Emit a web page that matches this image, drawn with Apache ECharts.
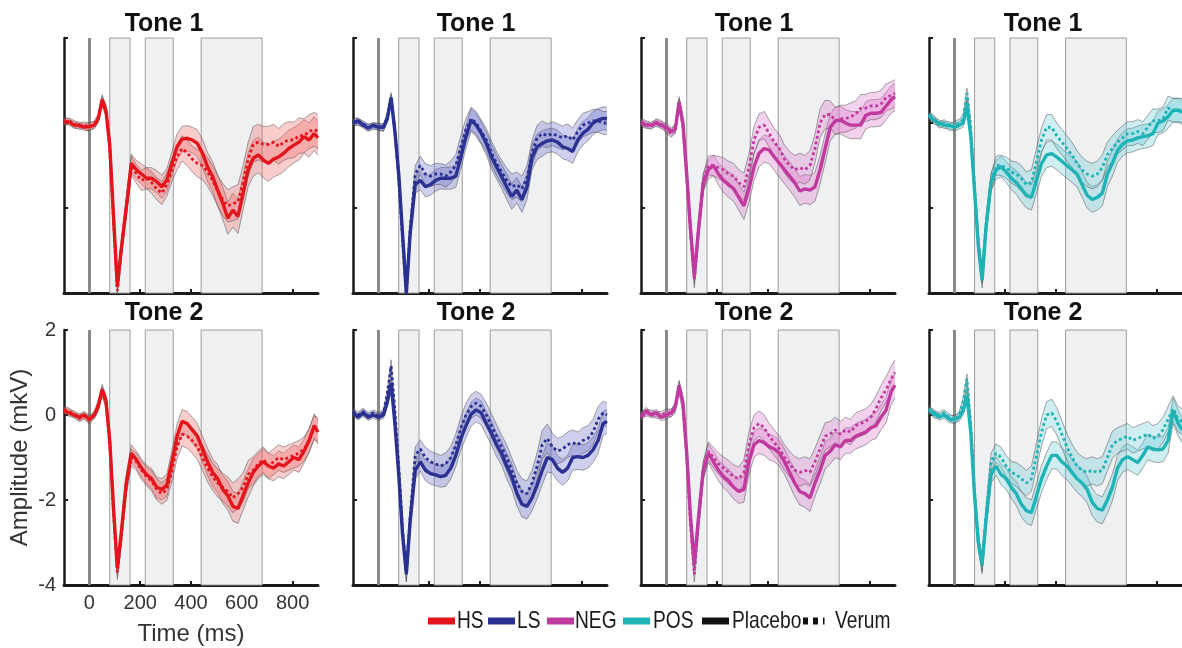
<!DOCTYPE html>
<html><head><meta charset="utf-8">
<script src="https://cdn.jsdelivr.net/npm/echarts@6/dist/echarts.min.js"></script>
<style>html,body{margin:0;padding:0;background:#fff}#c{width:1182px;height:648px}</style>
</head><body><div id="c"></div>
<script>
// ---------- DATA ----------
const time = [-100,-80,-60,-40,-20,0,20, 35,50,65,80,95,110,125, 145,165,185,205,225,245,265,285,305,325, 345,365,385,405,425,445,465,485,505,525, 545,565,585,605,625,645,665,685,705,725, 745,765,785,805,825,845,865,885,900];

const hsT1Placebo = [0.05,0.02,-0.05,-0.05,-0.1,-0.08,-0.05, 0.1,0.55,0.3,-0.5,-2.2,-3.85,-3.0, -2.0,-0.95,-1.1,-1.2,-1.3,-1.3,-1.38,-1.5,-1.34,-0.95, -0.56,-0.38,-0.36,-0.4,-0.48,-0.71,-1.03,-1.26,-1.58,-1.89, -2.24,-2.05,-2.2,-1.65,-1.1,-0.83,-0.75,-0.87,-0.95,-0.85, -0.8,-0.71,-0.6,-0.52,-0.45,-0.32,-0.4,-0.25,-0.35];
const hsT1Verum = [0.02,0.05,-0.02,-0.08,-0.05,-0.1,-0.02, 0.12,0.5,0.3,-0.6,-2.3,-3.95,-3.0, -2.0,-1.0,-1.2,-1.35,-1.3,-1.4,-1.55,-1.65,-1.45,-1.1, -0.8,-0.6,-0.7,-0.85,-0.95,-1.0,-1.15,-1.35,-1.6,-1.8, -1.95,-1.9,-1.85,-1.4,-0.85,-0.5,-0.45,-0.5,-0.5,-0.45, -0.55,-0.45,-0.4,-0.4,-0.3,-0.3,-0.2,-0.15,-0.2];
const hsT1Se = [0.08,0.07,0.08,0.07,0.08,0.09,0.08, 0.09,0.12,0.12,0.14,0.16,0.18,0.18, 0.2,0.22,0.22,0.24,0.25,0.25,0.26,0.27,0.27,0.28, 0.3,0.3,0.3,0.3,0.32,0.33,0.34,0.35,0.36,0.38, 0.38,0.4,0.4,0.4,0.4,0.42,0.42,0.42,0.42,0.42, 0.42,0.43,0.43,0.42,0.42,0.4,0.4,0.4,0.4];

const hsT2Placebo = [0.1,0.05,0.0,-0.05,0.0,-0.1,0.0, 0.2,0.6,0.35,-0.6,-2.2,-3.6,-2.8, -1.6,-0.9,-1.05,-1.25,-1.4,-1.5,-1.7,-1.75,-1.65,-1.1, -0.5,-0.15,-0.2,-0.35,-0.5,-0.8,-1.1,-1.35,-1.5,-1.75, -1.9,-2.15,-2.2,-1.9,-1.6,-1.35,-1.2,-1.1,-1.2,-1.25, -1.15,-1.2,-1.1,-1.0,-1.05,-0.85,-0.6,-0.25,-0.4];
const hsT2Verum = [0.12,0.08,0.02,-0.08,-0.02,-0.12,0.02, 0.25,0.55,0.3,-0.6,-2.3,-3.7,-2.9, -1.7,-1.0,-1.1,-1.3,-1.45,-1.55,-1.75,-1.85,-1.75,-1.3, -0.75,-0.45,-0.5,-0.6,-0.75,-1.0,-1.25,-1.45,-1.6,-1.7, -1.8,-1.95,-1.85,-1.7,-1.4,-1.3,-1.15,-1.05,-1.2,-1.1, -1.0,-1.05,-1.0,-0.95,-0.9,-0.8,-0.6,-0.3,-0.35];
const hsT2Se = [0.08,0.08,0.07,0.08,0.08,0.09,0.08, 0.1,0.12,0.12,0.14,0.15,0.17,0.17, 0.18,0.2,0.2,0.22,0.22,0.24,0.25,0.25,0.26,0.27, 0.28,0.28,0.28,0.3,0.3,0.3,0.32,0.32,0.33,0.33, 0.34,0.35,0.35,0.34,0.33,0.32,0.3,0.3,0.3,0.3, 0.3,0.3,0.3,0.3,0.3,0.28,0.28,0.28,0.28];

const lsT1Placebo = [0.0,0.05,-0.05,-0.12,-0.05,-0.1,-0.1, 0.1,0.6,-0.2,-1.2,-2.6,-4.0,-2.6, -1.45,-1.35,-1.5,-1.45,-1.35,-1.3,-1.3,-1.3,-1.25,-0.8, -0.32,0.07,-0.05,-0.24,-0.48,-0.8,-1.03,-1.26,-1.5,-1.73, -1.58,-1.8,-1.5,-0.8,-0.56,-0.48,-0.42,-0.4,-0.45,-0.56, -0.6,-0.67,-0.4,-0.24,-0.15,0.0,0.07,0.11,0.1];
const lsT1Verum = [0.03,0.02,-0.02,-0.1,-0.08,-0.08,-0.12, 0.15,0.55,-0.2,-1.3,-2.7,-4.05,-2.5, -1.2,-1.0,-1.2,-1.25,-1.2,-1.2,-1.25,-1.15,-1.0,-0.55, -0.15,0.1,0.0,-0.2,-0.4,-0.7,-0.95,-1.15,-1.35,-1.5, -1.45,-1.55,-1.3,-0.7,-0.35,-0.25,-0.3,-0.25,-0.3,-0.35, -0.3,-0.4,-0.2,-0.05,0.0,0.05,0.05,0.0,0.0];
const lsT1Se = [0.08,0.08,0.07,0.08,0.07,0.08,0.08, 0.09,0.12,0.13,0.15,0.17,0.18,0.18, 0.2,0.22,0.24,0.25,0.25,0.25,0.26,0.26,0.26,0.27, 0.27,0.27,0.27,0.27,0.27,0.28,0.28,0.28,0.3,0.3, 0.3,0.3,0.3,0.3,0.3,0.3,0.28,0.28,0.28,0.28, 0.28,0.28,0.28,0.28,0.27,0.27,0.27,0.27,0.27];

const lsT2Placebo = [0.05,-0.05,0.05,-0.05,0.0,-0.05,0.0, 0.3,0.75,-0.2,-1.4,-2.8,-3.73,-2.5, -1.3,-1.1,-1.3,-1.38,-1.41,-1.45,-1.42,-1.25,-0.95,-0.55, -0.25,0.02,0.12,0.05,-0.2,-0.42,-0.7,-0.9,-1.2,-1.45, -1.84,-2.1,-2.15,-1.95,-1.65,-1.3,-1.0,-1.05,-1.25,-1.35, -1.25,-1.0,-0.98,-1.0,-0.95,-0.82,-0.6,-0.2,-0.15];
const lsT2Verum = [0.08,0.0,0.08,-0.02,0.05,-0.02,0.05, 0.5,1.15,0.1,-1.2,-2.7,-3.75,-2.4, -0.95,-0.8,-1.0,-1.1,-1.15,-1.2,-1.15,-1.0,-0.7,-0.3, 0.0,0.2,0.28,0.2,0.0,-0.25,-0.5,-0.75,-1.0,-1.3, -1.6,-1.8,-1.85,-1.6,-1.2,-0.7,-0.55,-0.75,-0.85,-0.8, -0.7,-0.65,-0.7,-0.6,-0.55,-0.4,-0.1,0.05,0.0];
const lsT2Se = [0.08,0.07,0.08,0.08,0.07,0.08,0.08, 0.1,0.15,0.13,0.15,0.17,0.18,0.18, 0.2,0.22,0.24,0.25,0.25,0.25,0.26,0.26,0.26,0.27, 0.28,0.28,0.28,0.28,0.28,0.28,0.28,0.28,0.3,0.3, 0.3,0.3,0.3,0.3,0.32,0.34,0.34,0.32,0.3,0.3, 0.3,0.3,0.3,0.3,0.3,0.3,0.3,0.28,0.28];

const negT1Placebo = [0.0,-0.05,-0.05,0.0,-0.05,-0.1,-0.2, -0.15,0.5,0.0,-1.2,-2.5,-3.6,-2.6, -1.4,-1.1,-1.0,-1.2,-1.35,-1.45,-1.55,-1.75,-1.95,-1.55, -1.03,-0.71,-0.6,-0.64,-0.8,-0.95,-1.1,-1.25,-1.4,-1.6, -1.55,-1.58,-1.5,-1.1,-0.6,-0.1,0.05,0.07,0.0,-0.05, -0.05,-0.05,0.18,0.23,0.23,0.25,0.4,0.55,0.62];
const negT1Verum = [0.02,-0.02,-0.08,0.02,-0.02,-0.15,-0.25, -0.1,0.45,-0.05,-1.3,-2.6,-3.7,-2.6, -1.4,-1.0,-1.0,-1.05,-1.1,-1.2,-1.25,-1.4,-1.5,-1.05, -0.4,-0.1,-0.05,-0.25,-0.45,-0.6,-0.85,-1.0,-1.1,-1.05, -1.1,-1.0,-0.6,0.0,0.2,0.2,0.05,0.1,0.1,0.15, 0.2,0.35,0.35,0.4,0.4,0.45,0.6,0.65,0.7];
const negT1Se = [0.08,0.08,0.07,0.08,0.08,0.09,0.09, 0.1,0.12,0.13,0.15,0.17,0.18,0.18, 0.2,0.22,0.24,0.26,0.28,0.3,0.3,0.3,0.32,0.32, 0.32,0.32,0.32,0.32,0.32,0.33,0.33,0.33,0.34,0.34, 0.34,0.34,0.34,0.34,0.34,0.32,0.32,0.32,0.32,0.32, 0.32,0.32,0.32,0.32,0.32,0.32,0.32,0.32,0.32];

const negT2Placebo = [-0.05,0.1,0.0,0.05,-0.05,0.0,0.05, 0.2,0.7,0.3,-0.9,-2.4,-3.5,-2.5, -1.3,-0.9,-1.1,-1.3,-1.45,-1.55,-1.7,-1.8,-1.75,-1.1, -0.7,-0.6,-0.65,-0.75,-0.8,-0.9,-1.1,-1.35,-1.6,-1.8, -1.85,-1.95,-1.6,-1.3,-0.95,-0.85,-0.7,-0.75,-0.6,-0.6, -0.5,-0.45,-0.4,-0.3,-0.25,-0.05,0.12,0.55,0.7];
const negT2Verum = [0.0,0.05,0.05,0.0,0.0,0.05,0.05, 0.15,0.65,0.2,-1.0,-2.6,-3.75,-2.6, -1.3,-0.85,-1.0,-1.15,-1.25,-1.35,-1.45,-1.5,-1.35,-0.7, -0.3,-0.2,-0.3,-0.5,-0.65,-0.8,-1.0,-1.15,-1.3,-1.35, -1.3,-1.35,-1.1,-0.8,-0.5,-0.45,-0.35,-0.45,-0.35,-0.4, -0.25,-0.2,-0.15,-0.05,0.15,0.4,0.6,0.85,1.0];
const negT2Se = [0.08,0.08,0.07,0.08,0.08,0.09,0.09, 0.1,0.12,0.13,0.15,0.17,0.18,0.18, 0.2,0.22,0.24,0.25,0.26,0.28,0.28,0.28,0.3,0.3, 0.3,0.3,0.3,0.3,0.3,0.3,0.3,0.3,0.32,0.32, 0.32,0.32,0.32,0.32,0.32,0.3,0.3,0.3,0.3,0.3, 0.3,0.3,0.3,0.3,0.3,0.3,0.3,0.3,0.3];

const posT1Placebo = [0.2,0.05,0.0,-0.05,-0.05,-0.1,-0.05, 0.0,0.4,-0.3,-1.6,-2.9,-3.7,-2.5, -1.4,-1.1,-1.03,-1.15,-1.3,-1.4,-1.55,-1.7,-1.75,-1.35, -0.95,-0.75,-0.72,-0.8,-0.9,-1.0,-1.1,-1.2,-1.45,-1.7, -1.8,-1.75,-1.65,-1.2,-0.95,-0.65,-0.5,-0.42,-0.4,-0.35, -0.32,-0.3,-0.25,0.0,0.05,0.15,0.3,0.3,0.25];
const posT1Verum = [0.15,0.1,-0.05,0.0,-0.1,-0.05,0.0, 0.1,0.7,-0.1,-1.5,-2.8,-3.6,-2.4, -1.4,-1.0,-1.0,-1.05,-1.15,-1.2,-1.3,-1.45,-1.4,-0.9, -0.4,-0.1,-0.1,-0.3,-0.45,-0.6,-0.75,-0.95,-1.1,-1.2, -1.25,-1.2,-1.05,-0.75,-0.6,-0.45,-0.35,-0.25,-0.25,-0.2, -0.25,-0.1,0.05,0.05,0.1,0.35,0.3,0.3,0.3];
const posT1Se = [0.08,0.08,0.07,0.08,0.08,0.09,0.09, 0.1,0.12,0.13,0.15,0.17,0.18,0.18, 0.2,0.22,0.24,0.25,0.26,0.28,0.3,0.3,0.3,0.3, 0.3,0.3,0.3,0.3,0.3,0.3,0.3,0.3,0.3,0.3, 0.3,0.3,0.3,0.3,0.3,0.28,0.28,0.28,0.28,0.28, 0.28,0.28,0.28,0.28,0.28,0.28,0.28,0.28,0.28];

const posT2Placebo = [0.1,0.05,-0.05,0.0,-0.1,-0.1,-0.05, 0.1,0.45,-0.4,-1.9,-3.0,-3.5,-2.5, -1.4,-1.2,-1.4,-1.5,-1.7,-1.85,-2.1,-2.25,-2.3,-1.9, -1.5,-1.2,-0.95,-0.95,-1.1,-1.2,-1.35,-1.5,-1.6,-1.75, -2.05,-2.2,-2.24,-2.0,-1.7,-1.25,-1.05,-0.98,-1.05,-1.12, -0.95,-0.75,-0.8,-0.82,-0.8,-0.6,0.1,-0.2,-0.35];
const posT2Verum = [0.15,0.0,0.0,0.05,-0.05,-0.12,0.0, 0.3,0.85,-0.2,-1.8,-3.0,-3.55,-2.4, -1.1,-0.9,-1.0,-1.2,-1.35,-1.4,-1.5,-1.6,-1.5,-0.95, -0.4,0.0,0.05,-0.15,-0.45,-0.75,-1.0,-1.2,-1.3,-1.35, -1.3,-1.35,-1.3,-1.0,-0.7,-0.6,-0.55,-0.5,-0.6,-0.55, -0.5,-0.45,-0.55,-0.5,-0.35,-0.1,0.15,-0.1,-0.15];
const posT2Se = [0.08,0.08,0.07,0.08,0.08,0.09,0.09, 0.1,0.12,0.13,0.15,0.17,0.18,0.18, 0.2,0.22,0.24,0.25,0.26,0.28,0.3,0.3,0.3,0.3, 0.32,0.32,0.32,0.32,0.32,0.32,0.32,0.32,0.32,0.32, 0.32,0.32,0.32,0.32,0.32,0.3,0.3,0.3,0.3,0.3, 0.3,0.3,0.3,0.3,0.3,0.3,0.3,0.3,0.3];

const windowStart = [80, 220, 440];
const windowEnd = [160, 330, 680];
const xTicks = [0, 200, 400, 600, 800];
const rowTitles = ['Tone 1', 'Tone 2'];
const conditions = ['HS', 'LS', 'NEG', 'POS'];
const legendLabels = ['HS', 'LS', 'NEG', 'POS', 'Placebo', 'Verum'];

const panelData = {
  HS:  [[hsT1Placebo, hsT1Verum, hsT1Se], [hsT2Placebo, hsT2Verum, hsT2Se]],
  LS:  [[lsT1Placebo, lsT1Verum, lsT1Se], [lsT2Placebo, lsT2Verum, lsT2Se]],
  NEG: [[negT1Placebo, negT1Verum, negT1Se], [negT2Placebo, negT2Verum, negT2Se]],
  POS: [[posT1Placebo, posT1Verum, posT1Se], [posT2Placebo, posT2Verum, posT2Se]]
};

// ---------- STYLE ----------
const lineColor = {HS:'#e3151c', LS:'#2b3190', NEG:'#c03a9e', POS:'#1fb3b6'};
const bandColor = {HS:'rgba(240,100,100,0.32)', LS:'rgba(95,100,195,0.30)', NEG:'rgba(218,115,200,0.32)', POS:'rgba(95,200,212,0.30)'};
const FONT = '"Liberation Sans", Arial, sans-serif';
const gridLeft = [64, 353, 641, 929];
const gridWidth = 254;
const rowTop = [38, 330];
const gridHeight = 255;
const titleX = [164, 476, 754, 1043];
const titleY = [24, 313];

function bandSeries(gi, mean, se, color) {
  const lower = mean.map((v, i) => v - se[i]);
  const upper = mean.map((v, i) => v + se[i]);
  return {
    type: 'custom', xAxisIndex: gi, yAxisIndex: gi, silent: true, z: 2, animation: false,
    data: time.map((t, i) => [t, lower[i], upper[i]]),
    encode: {x: 0, y: [1, 2]},
    renderItem: function (params, api) {
      if (params.dataIndex !== 0) return null;
      const cs = params.coordSys;
      const cy = y => Math.max(cs.y, Math.min(cs.y + cs.height, y));
      const top = [], bot = [];
      for (let i = 0; i < time.length; i++) {
        const pu = api.coord([time[i], upper[i]]);
        const pl = api.coord([time[i], lower[i]]);
        top.push([pu[0], cy(pu[1])]);
        bot.push([pl[0], cy(pl[1])]);
      }
      const edge = {stroke: '#3a3a3a', lineWidth: 0.8, opacity: 0.55, fill: null};
      return {type: 'group', children: [
        {type: 'polygon', shape: {points: top.concat(bot.slice().reverse())}, style: {fill: color}},
        {type: 'polyline', shape: {points: top}, style: edge},
        {type: 'polyline', shape: {points: bot}, style: edge}
      ]};
    }
  };
}

const grids = [], xAxes = [], yAxes = [], series = [];
for (let r = 0; r < 2; r++) {
  for (let c = 0; c < 4; c++) {
    const gi = r * 4 + c;
    const cond = conditions[c];
    const [pl, ve, se] = panelData[cond][r];
    const showLabels = (r === 1 && c === 0);
    grids.push({left: gridLeft[c], top: rowTop[r], width: gridWidth, height: gridHeight, containLabel: false});
    xAxes.push({
      type: 'value', gridIndex: gi, min: -100, max: 900,
      axisLine: {show: true, onZero: false, lineStyle: {color: '#1a1a1a', width: 3}},
      axisTick: {show: true, inside: true, length: 4, customValues: xTicks, lineStyle: {color: '#1a1a1a', width: 2}},
      axisLabel: {show: showLabels, customValues: xTicks, fontSize: 20, color: '#333', fontFamily: FONT, margin: 8},
      splitLine: {show: false},
      name: showLabels ? 'Time (ms)' : '', nameLocation: 'middle', nameGap: 37,
      nameTextStyle: {fontSize: 24, color: '#333', fontFamily: FONT}
    });
    yAxes.push({
      type: 'value', gridIndex: gi, min: -4, max: 2, interval: 2,
      axisLine: {show: true, onZero: false, lineStyle: {color: '#1a1a1a', width: 2.5}},
      axisTick: {show: true, inside: true, length: 4, lineStyle: {color: '#1a1a1a', width: 2}},
      axisLabel: {show: showLabels, fontSize: 20, color: '#333', fontFamily: FONT, margin: 8},
      splitLine: {show: false},
      name: showLabels ? 'Amplitude (mkV)' : '', nameLocation: 'middle', nameGap: 32, nameRotate: 90,
      nameTextStyle: {fontSize: 24, color: '#333', fontFamily: FONT}
    });
    const mk = (arr) => arr.map((v, i) => [time[i], v]);
    series.push(bandSeries(gi, pl, se, bandColor[cond]));
    series.push(bandSeries(gi, ve, se, bandColor[cond]));
    series.push({type: 'line', xAxisIndex: gi, yAxisIndex: gi, data: mk(pl), symbol: 'none', silent: true,
      lineStyle: {color: lineColor[cond], width: 3.4}, z: 4, animation: false,
      markArea: {
        silent: true, z: 1,
        itemStyle: {color: '#eef0f2', borderColor: '#9c9c9c', borderWidth: 1},
        data: windowStart.map((s, i) => [{xAxis: s}, {xAxis: windowEnd[i]}])
      },
      markLine: {
        silent: true, z: 1, symbol: ['none', 'none'], label: {show: false},
        lineStyle: {color: '#8a8a8a', width: 3, type: 'solid'},
        data: [{xAxis: 0}]
      }
    });
    series.push({type: 'line', xAxisIndex: gi, yAxisIndex: gi, data: mk(ve), symbol: 'none', silent: true,
      lineStyle: {color: lineColor[cond], width: 2.8, type: [2.8, 2.8]}, z: 5, animation: false});
  }
}

const graphics = [];
for (let r = 0; r < 2; r++) for (let c = 0; c < 4; c++) {
  graphics.push({type: 'text', x: titleX[c], y: titleY[r], silent: true,
    style: {text: rowTitles[r], font: 'bold 25px ' + FONT, fill: '#111', textAlign: 'center', textVerticalAlign: 'middle', align: 'center', verticalAlign: 'middle'}});
}
// legend
const legSwatchX = [428, 488, 547, 623, 702];
const legTextX = [457, 517, 575, 653, 732, 835];
const legColors = [lineColor.HS, lineColor.LS, lineColor.NEG, lineColor.POS, '#111'];
const legY = 621;
legSwatchX.forEach((x, i) => {
  graphics.push({type: 'rect', silent: true, shape: {x: x, y: legY - 3.5, width: 27, height: 7}, style: {fill: legColors[i]}});
});
[803, 813].forEach(x => graphics.push({type: 'rect', silent: true, shape: {x: x, y: legY - 3.5, width: 5, height: 7}, style: {fill: '#111'}}));
graphics.push({type: 'rect', silent: true, shape: {x: 823, y: legY - 3.5, width: 1.5, height: 7}, style: {fill: '#111'}});
legendLabels.forEach((t, i) => {
  graphics.push({type: 'text', x: legTextX[i], y: legY, scaleX: 0.8, silent: true,
    style: {text: t, font: '24px ' + FONT, fill: '#1a1a1a', textAlign: 'left', textVerticalAlign: 'middle', align: 'left', verticalAlign: 'middle'}});
});

const chart = echarts.init(document.getElementById('c'));
chart.setOption({
  animation: false,
  backgroundColor: '#fff',
  grid: grids, xAxis: xAxes, yAxis: yAxes, series: series,
  graphic: graphics
});
</script></body></html>
